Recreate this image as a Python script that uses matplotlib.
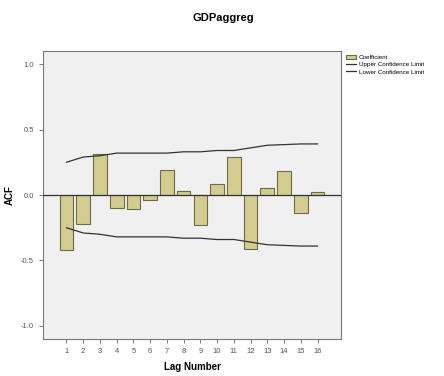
import matplotlib.pyplot as plt
import numpy as np

# ACF values (lags 1-16)
lags = np.arange(1, 17)
acf = [-0.42, -0.22, 0.31, -0.10, -0.11, -0.04, 0.19, 0.03,
       -0.23, 0.085, 0.29, -0.41, 0.056, 0.18, -0.135, 0.025]
upper = [0.25, 0.29, 0.30, 0.32, 0.32, 0.32, 0.32, 0.33,
         0.33, 0.34, 0.34, 0.36, 0.38, 0.385, 0.39, 0.39]
lower = [-u for u in upper]

plt.rcParams["font.family"] = ["Liberation Sans", "DejaVu Sans"]

fig = plt.figure(figsize=(4.44, 3.76), dpi=100)
ax = fig.add_axes([43 / 444, 1 - 339 / 376, 298 / 444, 288 / 376])
ax.set_facecolor("#F0F0F0")

bars = ax.bar(lags, acf, width=0.82, color="#D2CD8E", edgecolor="#6E6A45",
              linewidth=0.8, zorder=2)
up_line, = ax.plot(lags, upper, color="#333333", linewidth=0.9, zorder=3)
lo_line, = ax.plot(lags, lower, color="#333333", linewidth=0.9, zorder=3)
ax.axhline(0, color="#333333", linewidth=0.9, zorder=3)

ax.set_xlim(-0.4, 17.4)
ax.set_ylim(-1.1, 1.1)
ax.set_xticks(lags)
ax.set_xticklabels([str(l) for l in lags], fontsize=5.5)
ax.set_yticks([-1.0, -0.5, 0.0, 0.5, 1.0])
ax.set_yticklabels(["-1.0", "-0.5", "0.0", "0.5", "1.0"], fontsize=5.5)
ax.tick_params(length=3, width=0.6, color="#666666", labelcolor="#555555")
for s in ax.spines.values():
    s.set_color("#777777")
    s.set_linewidth(0.8)

ax.set_xlabel("Lag Number", fontsize=7, fontweight="bold")
ax.xaxis.set_label_coords(0.5, -0.08)
ax.set_ylabel("ACF", fontsize=7, fontweight="bold")
ax.yaxis.set_label_coords(-0.095, 0.5)
fig.text(223 / 444, 1 - 18 / 376, "GDPaggreg", ha="center", va="center",
         fontsize=8, fontweight="bold")

ax.legend([bars, up_line, lo_line],
          ["Coefficient", "Upper Confidence Limit", "Lower Confidence Limit"],
          loc="upper left", bbox_to_anchor=(1.005, 1.0), fontsize=4.5,
          frameon=False, handlelength=1.6, handletextpad=0.4,
          labelspacing=0.3, borderaxespad=0.2)

fig.savefig("out.png", dpi=100)
